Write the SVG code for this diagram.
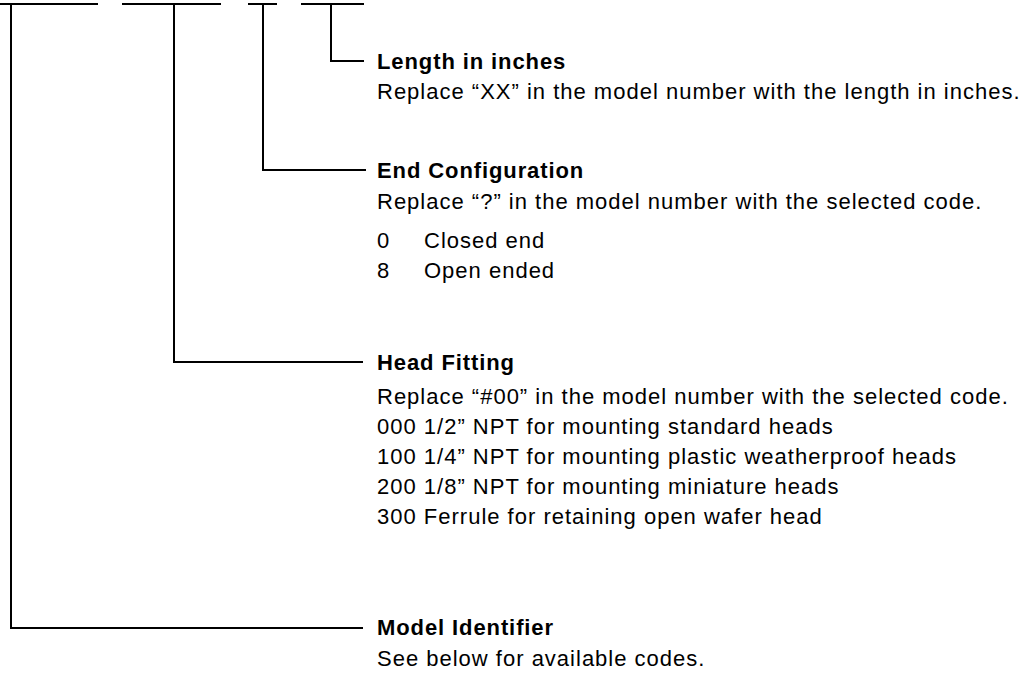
<svg xmlns="http://www.w3.org/2000/svg" width="1033" height="676" viewBox="0 0 1033 676">
<style>
.ln{stroke:#000;stroke-width:2;fill:none;stroke-linecap:square}
.t{font-family:"Liberation Sans",Arial,sans-serif;font-size:22px;letter-spacing:1px;fill:#000}
.b{font-weight:bold;letter-spacing:0.9px}
</style>
<rect width="1033" height="676" fill="#fff"/>
<g id="connectors">
<path class="ln" d="M0 4H97M123 4H220M249 4H276M302 4H363"/>
<path class="ln" d="M11 4V628H362"/>
<path class="ln" d="M174 4V362H362"/>
<path class="ln" d="M263 4V170H365"/>
<path class="ln" d="M331 4V61H363"/>
</g>
<g id="length">
<text class="t b" x="377" y="69">Length in inches</text>
<text class="t" x="377" y="99">Replace “XX” in the model number with the length in inches.</text>
</g>
<g id="end-config">
<text class="t b" x="377" y="178">End Configuration</text>
<text class="t" x="377" y="209">Replace “?” in the model number with the selected code.</text>
<text class="t" x="377" y="248">0</text><text class="t" x="424" y="248">Closed end</text>
<text class="t" x="377" y="278">8</text><text class="t" x="424" y="278">Open ended</text>
</g>
<g id="head-fitting">
<text class="t b" x="377" y="370">Head Fitting</text>
<text class="t" x="377" y="404">Replace “#00” in the model number with the selected code.</text>
<text class="t" x="377" y="434">000 1/2” NPT for mounting standard heads</text>
<text class="t" x="377" y="464">100 1/4” NPT for mounting plastic weatherproof heads</text>
<text class="t" x="377" y="494">200 1/8” NPT for mounting miniature heads</text>
<text class="t" x="377" y="524">300 Ferrule for retaining open wafer head</text>
</g>
<g id="model-id">
<text class="t b" x="377" y="635">Model Identifier</text>
<text class="t" x="377" y="666">See below for available codes.</text>
</g>
</svg>
